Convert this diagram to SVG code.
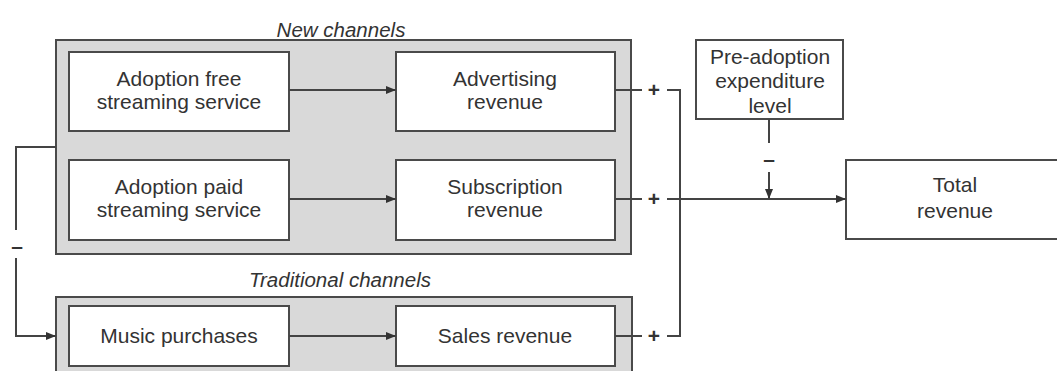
<svg xmlns="http://www.w3.org/2000/svg" width="1057" height="371" viewBox="0 0 1057 371">
<defs>
<marker id="ah" viewBox="0 0 10 8" refX="10" refY="4" markerWidth="10" markerHeight="8" markerUnits="userSpaceOnUse" orient="auto">
<path d="M0,0 L10,4 L0,8 Z" fill="#333"/>
</marker>
<style>
.grp{fill:#d9d9d9;stroke:#4a4a4a;stroke-width:2}
.box{fill:#fff;stroke:#4a4a4a;stroke-width:2}
.t{font-family:"Liberation Sans",Arial,sans-serif;font-size:21px;fill:#333;text-anchor:middle}
.gl{font-family:"Liberation Sans",Arial,sans-serif;font-size:20.5px;font-style:italic;fill:#333;text-anchor:middle}
.sg{font-family:"Liberation Sans",Arial,sans-serif;font-size:21px;font-weight:bold;fill:#333;text-anchor:middle}
.c{fill:none;stroke:#444;stroke-width:2}
</style>
</defs>
<rect width="1057" height="371" fill="#fff"/>
<g id="group-new">
<rect class="grp" x="56" y="40" width="575" height="214"/>
<text class="gl" x="341" y="37">New channels</text>
</g>
<g id="group-traditional">
<rect class="grp" x="56" y="297" width="576" height="90"/>
<text class="gl" x="340" y="287">Traditional channels</text>
</g>
<g id="adoption-free">
<rect class="box" x="69" y="52" width="220" height="79"/>
<text class="t" x="179" y="86">Adoption free</text>
<text class="t" x="179" y="109">streaming service</text>
</g>
<g id="advertising-revenue">
<rect class="box" x="396" y="52" width="219" height="79"/>
<text class="t" x="505" y="86">Advertising</text>
<text class="t" x="505" y="109">revenue</text>
</g>
<g id="adoption-paid">
<rect class="box" x="69" y="160" width="220" height="80"/>
<text class="t" x="179" y="194">Adoption paid</text>
<text class="t" x="179" y="217">streaming service</text>
</g>
<g id="subscription-revenue">
<rect class="box" x="396" y="160" width="219" height="80"/>
<text class="t" x="505" y="194">Subscription</text>
<text class="t" x="505" y="217">revenue</text>
</g>
<g id="music-purchases">
<rect class="box" x="69" y="306" width="220" height="60"/>
<text class="t" x="179" y="343">Music purchases</text>
</g>
<g id="sales-revenue">
<rect class="box" x="396" y="306" width="219" height="60"/>
<text class="t" x="505" y="343">Sales revenue</text>
</g>
<g id="pre-adoption">
<rect class="box" x="696" y="40" width="147" height="79"/>
<text class="t" x="770" y="64">Pre-adoption</text>
<text class="t" x="770" y="88">expenditure</text>
<text class="t" x="770" y="113">level</text>
</g>
<g id="total-revenue">
<rect class="box" x="846" y="160" width="220" height="79"/>
<text class="t" x="955" y="192">Total</text>
<text class="t" x="955" y="218">revenue</text>
</g>
<g id="connectors">
<line class="c" x1="289" y1="90" x2="396" y2="90" marker-end="url(#ah)"/>
<line class="c" x1="289" y1="199" x2="396" y2="199" marker-end="url(#ah)"/>
<line class="c" x1="289" y1="336" x2="396" y2="336" marker-end="url(#ah)"/>
<line class="c" x1="615" y1="90" x2="642" y2="90"/>
<line class="c" x1="615" y1="199" x2="642" y2="199"/>
<line class="c" x1="615" y1="336" x2="642" y2="336"/>
<text class="sg" x="654" y="97">+</text>
<text class="sg" x="654" y="206">+</text>
<text class="sg" x="654" y="343">+</text>
<polyline class="c" points="667,90 680,90 680,336 667,336"/>
<line class="c" x1="667" y1="199" x2="846" y2="199" marker-end="url(#ah)"/>
<line class="c" x1="769" y1="119" x2="769" y2="143"/>
<text class="sg" x="769" y="166" font-size="26">–</text>
<line class="c" x1="769" y1="172" x2="769" y2="199" marker-end="url(#ah)"/>
<polyline class="c" points="56,147 16,147 16,230"/>
<text class="sg" x="17" y="253" font-size="26">–</text>
<polyline class="c" points="16,258 16,336 56,336" marker-end="url(#ah)"/>
</g>
</svg>
